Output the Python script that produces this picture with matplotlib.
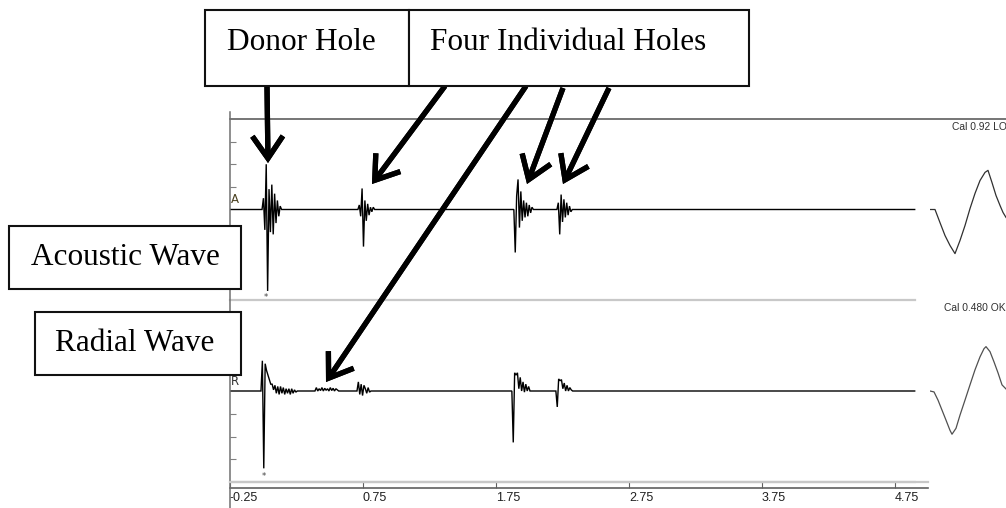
import matplotlib
matplotlib.use("Agg")
import matplotlib.pyplot as plt
from matplotlib.lines import Line2D
from matplotlib.patches import Rectangle

# sampling step of the traces (time units per sample)
dt = 0.0105

# acoustic channel bursts: start time, amplitudes in divisions
a_donor_t0 = -0.009
a_donor = [0, 0.5, -0.9, 2.0, -3.6, 0.9, -1.0, 1.1, -1.1, 0.7, -0.6, 0.4,
           -0.3, 0.15, 0]
a_hole1_t0 = 0.712
a_hole1 = [0, 0.2, -0.3, 0.93, -1.64, 0.4, -0.5, 0.25, -0.25, 0.1, -0.1,
           0.1, 0]
a_hole2_t0 = 1.885
a_hole2 = [0, -1.9, 0.6, 1.33, -0.8, 0.8, -0.5, 0.4, -0.35, 0.3, -0.3, 0.2,
           -0.15, 0.1, 0]
a_hole3_t0 = 2.209
a_hole3 = [0, 0.3, -1.1, 0.66, -0.55, 0.45, -0.35, 0.3, -0.25, 0.15, -0.1, 0]

# radial channel bursts
r_donor_t0 = -0.017
r_donor = [0, 1.33, -3.4, 1.2, 0.9, 0.7, 0.5, 0.3, 0.3, 0.05, 0.25, -0.1,
           0.2, -0.15, 0.2, -0.1, 0.15, -0.15, 0.1, -0.1, 0.1, -0.15, 0.1,
           -0.1, 0.05, -0.05, 0]
r_bump_t0 = 0.389
r_bump = [0, 0.15, 0, 0.1, 0.02, 0.15, 0, 0.12, 0.03, 0.1, 0, 0.15, 0.02,
          0.12, 0, 0.1, 0.05, 0]
r_hole1_t0 = 0.705
r_hole1 = [0, 0.4, -0.15, 0.3, -0.2, 0.25, 0.1, -0.1, 0.15, -0.05, 0]
r_hole2_t0 = 1.870
r_hole2 = [0, -2.26, 0.8, 0.7, 0.8, 0.1, 0.6, 0, 0.4, -0.05, 0.3, 0, 0.2,
           0, 0]
r_hole3_t0 = 2.201
r_hole3 = [0, -0.7, 0.53, 0.45, 0.5, 0.1, 0.35, 0, 0.25, 0, 0.15, 0.05, 0]

trace_start, trace_end = -0.25, 4.9

# calibration waveforms
cal_a_t = [0, 5, 10, 15, 20, 25, 30, 35, 40, 45, 50, 55, 58, 62, 66, 70, 73, 76]
cal_a = [0, 0, -0.58, -1.15, -1.59, -1.95, -1.37, -0.71, 0.04, 0.71, 1.28,
         1.64, 1.73, 1.19, 0.62, 0.18, -0.13, -0.35]
cal_r_t = [0, 4, 8, 12, 16, 20, 22, 26, 30, 35, 40, 45, 50, 54, 56, 60, 64,
           68, 72, 76]
cal_r = [0, -0.04, -0.4, -0.84, -1.28, -1.73, -1.9, -1.64, -1.06, -0.4, 0.27,
         0.93, 1.5, 1.86, 1.95, 1.73, 1.28, 0.8, 0.27, 0.09]

xticks = [-0.25, 0.75, 1.75, 2.75, 3.75, 4.75]
xticklabels = ["-0.25", "0.75", "1.75", "2.75", "3.75", "4.75"]


def build_trace(bursts):
    t, y = [trace_start], [0]
    for t0, amps in bursts:
        for i, a in enumerate(amps):
            t.append(t0 + i * dt)
            y.append(a)
    t.append(trace_end)
    y.append(0)
    return t, y


W, H = 1006, 508
fig = plt.figure(figsize=(W / 100, H / 100), dpi=100)


def fx(x):
    return x / W


def fy(y):
    return 1 - y / H


def rect(x0, y0, x1, y1):
    return [fx(x0), fy(y1), fx(x1) - fx(x0), fy(y0) - fy(y1)]


tick_font = ["Liberation Sans Narrow", "Liberation Sans"]

ax_a = fig.add_axes(rect(230, 119, 928, 300))
ax_r = fig.add_axes(rect(230, 300, 928, 482))
ax_ca = fig.add_axes(rect(930, 119, 1006, 300))
ax_cr = fig.add_axes(rect(930, 300, 1006, 482))

ta, ya = build_trace([(a_donor_t0, a_donor), (a_hole1_t0, a_hole1),
                      (a_hole2_t0, a_hole2), (a_hole3_t0, a_hole3)])
tr, yr = build_trace([(r_donor_t0, r_donor), (r_bump_t0, r_bump),
                      (r_hole1_t0, r_hole1), (r_hole2_t0, r_hole2),
                      (r_hole3_t0, r_hole3)])

for ax, t, y in [(ax_a, ta, ya), (ax_r, tr, yr)]:
    ax.plot(t, y, color="black", lw=1.0, solid_joinstyle="miter")
    ax.set_xlim(-0.25, 5.0)
    ax.set_ylim(-4, 4)
    for s in ["top", "right", "left", "bottom"]:
        ax.spines[s].set_visible(False)
    ax.set_yticks([-3, -2, -1, 1, 2, 3])
    ax.tick_params(axis="y", direction="in", length=4, color="#808080",
                   labelleft=False)
    ax.patch.set_alpha(0)
    # light separator under each channel
    ax.axhline(-4, xmin=0, xmax=(915 - 230) / (928 - 230), color="#c8c8c8",
               lw=1.6, clip_on=False)

ax_a.set_xticks([])
ax_r.spines["bottom"].set_visible(True)
ax_r.spines["bottom"].set_position(("outward", 4.5))
ax_r.spines["bottom"].set_color("#606060")
ax_r.spines["bottom"].set_linewidth(1.2)
ax_r.set_xticks(xticks)
ax_r.set_xticklabels(xticklabels, ha="left", fontsize=9, family=tick_font,
                     color="#202020")
ax_r.tick_params(axis="x", direction="in", length=4, color="#606060", pad=2.5)

ax_a.text(-0.24, 0.15, "A", fontsize=8.5, color="#4a4020", ha="left",
          va="bottom")
ax_r.text(-0.24, 0.15, "R", fontsize=8.5, color="#303030", ha="left",
          va="bottom")
ax_a.text(0.018, -3.7, "*", fontsize=6, color="#404040", ha="center",
          va="top")
ax_r.text(0.003, -3.55, "*", fontsize=6, color="#404040", ha="center",
          va="top")

ax_ca.plot(cal_a_t, cal_a, color="#303030", lw=0.9)
ax_cr.plot(cal_r_t, cal_r, color="#505050", lw=0.9)
for ax in (ax_ca, ax_cr):
    ax.set_xlim(0, 76)
    ax.set_ylim(-4, 4)
    ax.axis("off")

fig.text(fx(952), fy(127), "Cal 0.92 LO", fontsize=7.4, color="#303030",
         ha="left", va="center", family=tick_font[1])
fig.text(fx(944), fy(308), "Cal 0.480 OK", fontsize=7.4, color="#303030",
         ha="left", va="center", family=tick_font[1])

# frame lines of the display
fig.add_artist(Line2D([fx(230), fx(1006)], [fy(119), fy(119)],
                      color="#505050", lw=1.1))
fig.add_artist(Line2D([fx(230), fx(230)], [fy(112), fy(508)],
                      color="#707070", lw=1.1))
fig.add_artist(Line2D([fx(230), fx(928)], [fy(482), fy(482)],
                      color="#c8c8c8", lw=1.6))

# annotation boxes
serif = "Liberation Serif"
boxes = [
    (205, 10, 409, 86, "Donor Hole", 227),
    (409, 10, 749, 86, "Four Individual Holes", 430),
    (9, 226, 241, 289, "Acoustic Wave", 31),
    (35, 312, 241, 375, "Radial Wave", 55),
]
for x0, y0, x1, y1, label, tx in boxes:
    fig.add_artist(Rectangle((fx(x0), fy(y1)), fx(x1) - fx(x0),
                             fy(y0) - fy(y1), transform=fig.transFigure,
                             facecolor="white", edgecolor="#111111", lw=1.5,
                             zorder=5))
for x0, y0, x1, y1, label, tx in boxes:
    ty = 42 if y0 == 10 else (y0 + y1) / 2
    fig.text(fx(tx), fy(ty), label, fontsize=22.5, family=serif,
             ha="left", va="center", color="black", zorder=6)

# arrows
arrows = [
    ((267, 86), (268, 163)),
    ((445, 86), (372, 184)),
    ((526, 86), (326, 382)),
    ((563, 88), (527, 184)),
    ((609, 88), (563, 184)),
]
for (x0, y0), (x1, y1) in arrows:
    fig.add_artist(plt.annotate(
        "", xy=(fx(x1), fy(y1)), xycoords="figure fraction",
        xytext=(fx(x0), fy(y0)), textcoords="figure fraction",
        arrowprops=dict(arrowstyle="->,head_length=1.6,head_width=1.1",
                        lw=3.8, color="black", shrinkA=0, shrinkB=0,
                        mutation_scale=10, joinstyle="miter",
                        capstyle="butt")))

fig.savefig("out.png", dpi=100)
